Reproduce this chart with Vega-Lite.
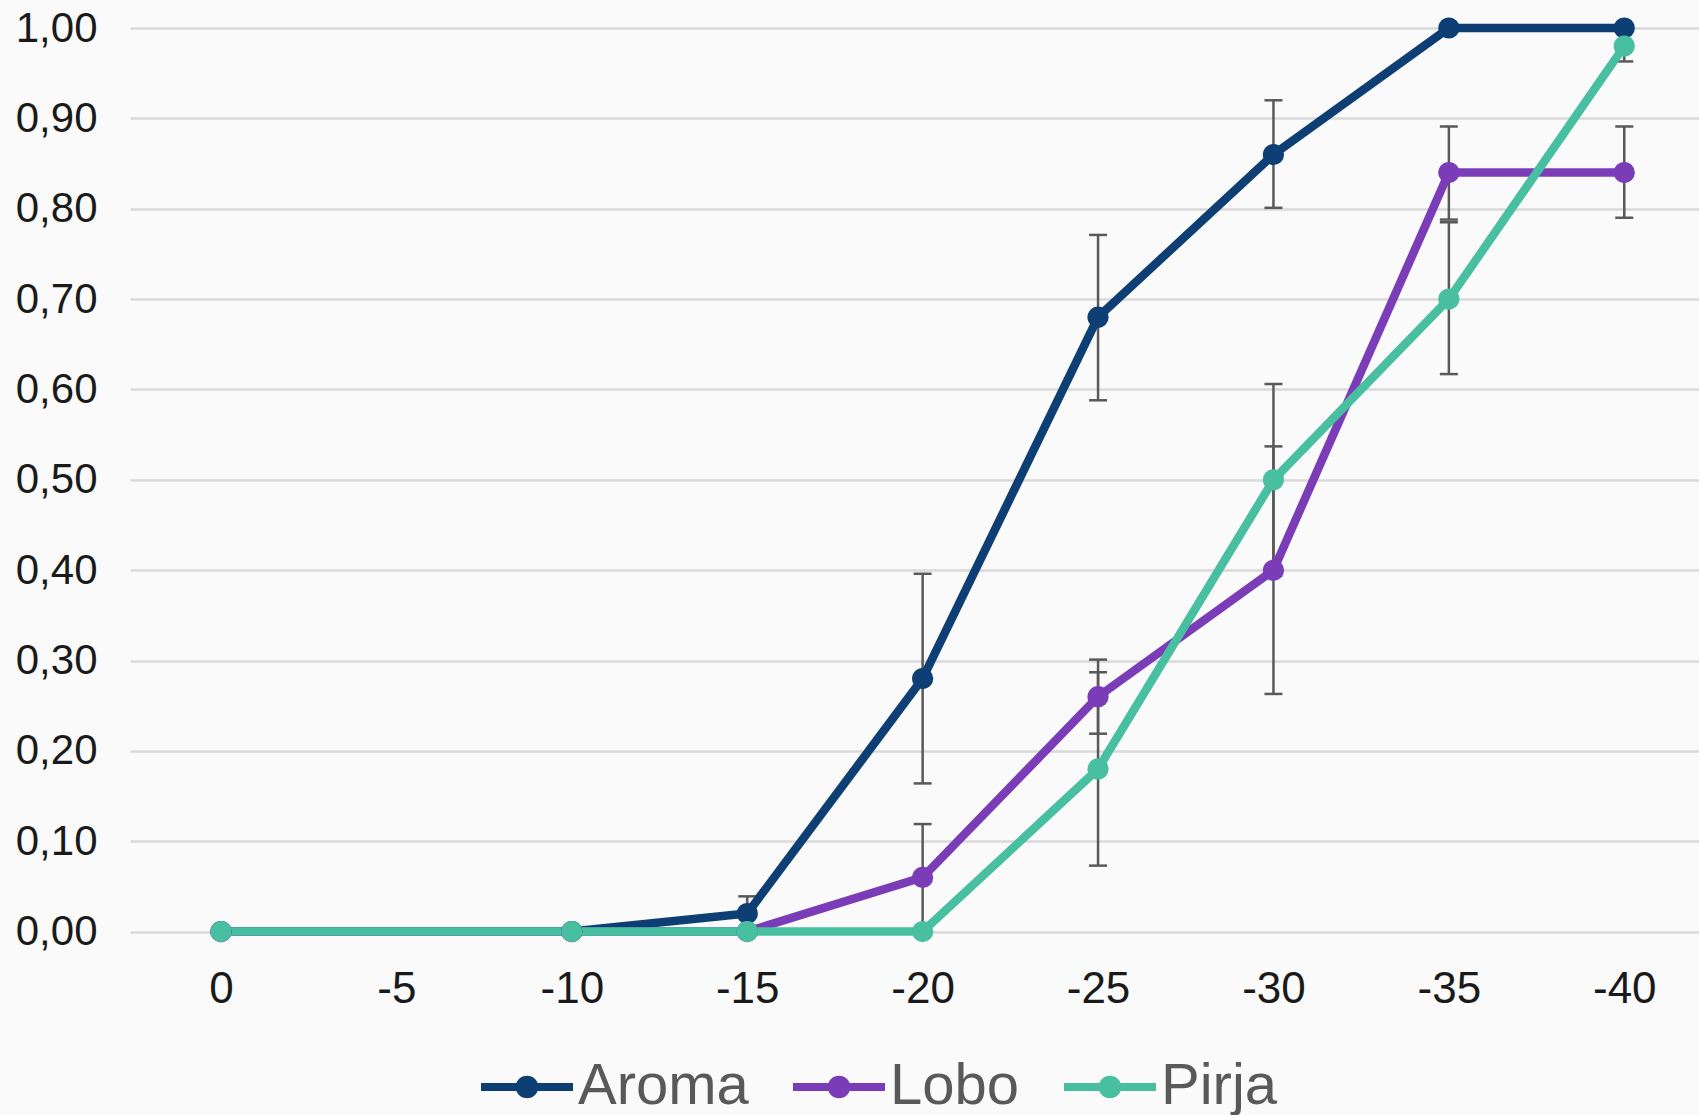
{
  "$schema": "https://vega.github.io/schema/vega-lite/v6.json",
  "width": 1569,
  "height": 903.6,
  "autosize": {"type": "none"},
  "padding": {"left": 130, "top": 28, "right": 0, "bottom": 183.4},
  "background": "#fafafa",
  "config": {
    "view": {"stroke": null},
    "font": "Liberation Sans"
  },
  "data": {
    "values": [
      {"t": 0, "series": "Aroma", "v": 0, "lo": null, "hi": null},
      {"t": -10, "series": "Aroma", "v": 0, "lo": null, "hi": null},
      {"t": -15, "series": "Aroma", "v": 0.02, "lo": 0.0, "hi": 0.039},
      {"t": -20, "series": "Aroma", "v": 0.28, "lo": 0.164, "hi": 0.396},
      {"t": -25, "series": "Aroma", "v": 0.68, "lo": 0.588, "hi": 0.771},
      {"t": -30, "series": "Aroma", "v": 0.86, "lo": 0.801, "hi": 0.92},
      {"t": -35, "series": "Aroma", "v": 1.0, "lo": null, "hi": null},
      {"t": -40, "series": "Aroma", "v": 1.0, "lo": null, "hi": null},
      {"t": 0, "series": "Lobo", "v": 0, "lo": null, "hi": null},
      {"t": -10, "series": "Lobo", "v": 0, "lo": null, "hi": null},
      {"t": -15, "series": "Lobo", "v": 0, "lo": null, "hi": null},
      {"t": -20, "series": "Lobo", "v": 0.06, "lo": 0.0, "hi": 0.119},
      {"t": -25, "series": "Lobo", "v": 0.26, "lo": 0.219, "hi": 0.301},
      {"t": -30, "series": "Lobo", "v": 0.40, "lo": 0.263, "hi": 0.537},
      {"t": -35, "series": "Lobo", "v": 0.84, "lo": 0.788, "hi": 0.891},
      {"t": -40, "series": "Lobo", "v": 0.84, "lo": 0.79, "hi": 0.891},
      {"t": 0, "series": "Pirja", "v": 0, "lo": null, "hi": null},
      {"t": -10, "series": "Pirja", "v": 0, "lo": null, "hi": null},
      {"t": -15, "series": "Pirja", "v": 0, "lo": null, "hi": null},
      {"t": -20, "series": "Pirja", "v": 0, "lo": null, "hi": null},
      {"t": -25, "series": "Pirja", "v": 0.18, "lo": 0.073, "hi": 0.287},
      {"t": -30, "series": "Pirja", "v": 0.50, "lo": 0.394, "hi": 0.606},
      {"t": -35, "series": "Pirja", "v": 0.70, "lo": 0.617, "hi": 0.785},
      {"t": -40, "series": "Pirja", "v": 0.98, "lo": 0.963, "hi": 0.998}
    ]
  },
  "encoding": {
    "x": {
      "field": "t",
      "type": "quantitative",
      "scale": {"domain": [2.594, -42.13], "nice": false, "zero": false},
      "axis": {
        "title": null,
        "values": [0, -5, -10, -15, -20, -25, -30, -35, -40],
        "labelExpr": "'' + datum.value",
        "domain": false,
        "ticks": false,
        "tickSize": 0,
        "grid": false,
        "labelPadding": 36,
        "labelFontSize": 44,
        "labelColor": "#1a1a1a",
        "labelFont": "Liberation Sans"
      }
    },
    "y": {
      "field": "v",
      "type": "quantitative",
      "scale": {"domain": [0, 1], "nice": false, "zero": true},
      "axis": {
        "title": null,
        "values": [0, 0.1, 0.2, 0.3, 0.4, 0.5, 0.6, 0.7, 0.8, 0.9, 1.0],
        "labelExpr": "replace(format(datum.value, '.2f'), '.', ',')",
        "domain": false,
        "ticks": false,
        "tickSize": 0,
        "grid": true,
        "gridColor": "#d9d9d9",
        "gridWidth": 2.5,
        "labelPadding": 33,
        "labelFontSize": 42,
        "labelColor": "#1a1a1a",
        "labelFont": "Liberation Sans"
      }
    }
  },
  "layer": [
    {
      "transform": [{"filter": "datum.lo != null"}],
      "mark": {"type": "rule", "color": "#595959", "strokeWidth": 2.5},
      "encoding": {"y": {"field": "lo", "type": "quantitative"}, "y2": {"field": "hi"}}
    },
    {
      "transform": [{"filter": "datum.lo != null"}],
      "mark": {"type": "point", "shape": "M-1,0H1", "filled": false, "color": "#595959", "strokeWidth": 2.5, "size": 324, "opacity": 1},
      "encoding": {"y": {"field": "lo", "type": "quantitative"}}
    },
    {
      "transform": [{"filter": "datum.lo != null"}],
      "mark": {"type": "point", "shape": "M-1,0H1", "filled": false, "color": "#595959", "strokeWidth": 2.5, "size": 324, "opacity": 1},
      "encoding": {"y": {"field": "hi", "type": "quantitative"}}
    },
    {
      "mark": {"type": "line", "strokeWidth": 8.5},
      "encoding": {
        "stroke": {
          "field": "series",
          "type": "nominal",
          "scale": {"domain": ["Aroma", "Lobo", "Pirja"], "range": ["#0e3f74", "#7b3cb8", "#48bfa1"]},
          "legend": {
            "orient": "none",
            "legendX": 347,
            "legendY": 1009,
            "direction": "horizontal",
            "title": null,
            "padding": 0,
            "symbolType": "M-1,0H1M0.16,0A0.16,0.16,0,1,1,-0.16,0A0.16,0.16,0,1,1,0.16,0",
            "symbolSize": 8464,
            "symbolStrokeWidth": 8,
            "labelFontSize": 58,
            "labelLimit": 500,
            "labelColor": "#595959",
            "labelFont": "Liberation Sans",
            "labelOffset": 1,
            "columnPadding": 28
          }
        }
      }
    },
    {
      "mark": {"type": "point", "filled": true, "shape": "circle", "size": 450, "opacity": 1},
      "encoding": {
        "fill": {
          "field": "series",
          "type": "nominal",
          "scale": {"domain": ["Aroma", "Lobo", "Pirja"], "range": ["#0e3f74", "#7b3cb8", "#48bfa1"]},
          "legend": {
            "orient": "none",
            "legendX": 347,
            "legendY": 1009,
            "direction": "horizontal",
            "title": null,
            "padding": 0,
            "symbolType": "M-1,0H1M0.16,0A0.16,0.16,0,1,1,-0.16,0A0.16,0.16,0,1,1,0.16,0",
            "symbolSize": 8464,
            "symbolStrokeWidth": 8,
            "labelFontSize": 58,
            "labelLimit": 500,
            "labelColor": "#595959",
            "labelFont": "Liberation Sans",
            "labelOffset": 1,
            "columnPadding": 28
          }
        }
      }
    }
  ]
}
